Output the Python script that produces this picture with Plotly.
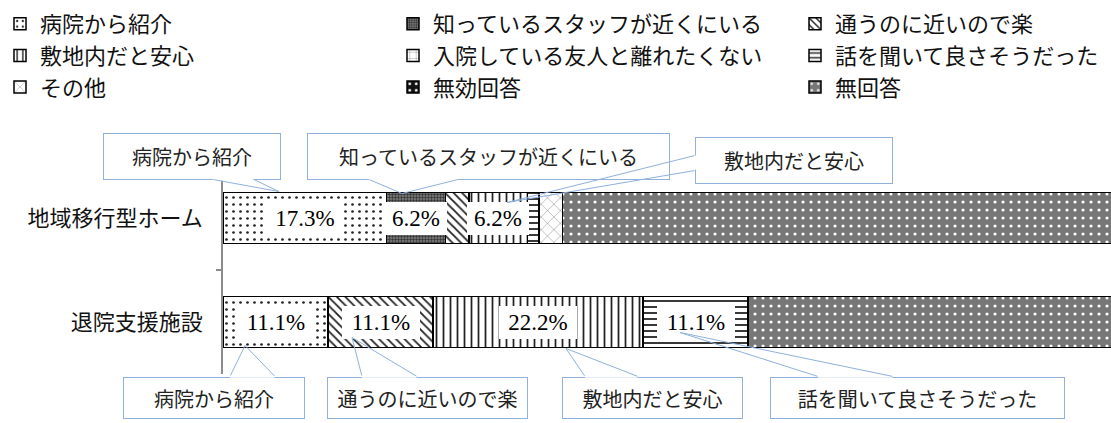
import plotly.graph_objects as go

# ---------------------------------------------------------------- data
categories = ["地域移行型ホーム", "退院支援施設"]

series_names = [
    "病院から紹介",
    "知っているスタッフが近くにいる",
    "通うのに近いので楽",
    "敷地内だと安心",
    "入院している友人と離れたくない",
    "話を聞いて良さそうだった",
    "その他",
    "無効回答",
    "無回答",
]

# share of respondents (%) : [地域移行型ホーム, 退院支援施設]
hospital_referral = [17.3, 11.1]
staff_nearby = [6.2, 0.0]
easy_commute = [2.5, 11.1]
safe_on_site = [6.2, 22.2]
stay_with_friends = [0.0, 0.0]
good_impression = [1.2, 11.1]
other_reason = [2.5, 0.0]
invalid_answer = [0.0, 0.0]
no_answer = [64.2, 44.4]

series_values = [
    hospital_referral, staff_nearby, easy_commute, safe_on_site,
    stay_with_friends, good_impression, other_reason, invalid_answer, no_answer,
]

# segments that carry a value label and a callout with the series name
labelled_segments = {
    "地域移行型ホーム": ["病院から紹介", "知っているスタッフが近くにいる", "敷地内だと安心"],
    "退院支援施設": ["病院から紹介", "通うのに近いので楽", "敷地内だと安心", "話を聞いて良さそうだった"],
}

# ---------------------------------------------------------------- styles
CJK = "Noto Sans CJK JP"
SERIF = "Liberation Serif, " + CJK
CALLOUT_BLUE = "#8fb1dc"
W, H = 1111, 423

patterns = {
    "病院から紹介": dict(shape=".", bgcolor="white", fgcolor="#222222", size=7, solidity=0.12),
    "知っているスタッフが近くにいる": dict(shape=".", bgcolor="#858585", fgcolor="#333333", size=3, solidity=0.5),
    "通うのに近いので楽": dict(shape="\\", bgcolor="white", fgcolor="#222222", size=6, solidity=0.3),
    "敷地内だと安心": dict(shape="|", bgcolor="white", fgcolor="#222222", size=7, solidity=0.25),
    "入院している友人と離れたくない": dict(shape="+", bgcolor="white", fgcolor="#444444", size=8, solidity=0.08),
    "話を聞いて良さそうだった": dict(shape="-", bgcolor="white", fgcolor="#222222", size=6, solidity=0.3),
    "その他": dict(shape="x", bgcolor="white", fgcolor="#555555", size=9, solidity=0.08),
    "無効回答": dict(shape=".", bgcolor="#111111", fgcolor="white", size=8, solidity=0.15),
    "無回答": dict(shape=".", bgcolor="#777777", fgcolor="white", size=8, solidity=0.12),
}

# legend laid out as three columns (left edge of each, in px)
legend_ids = ["legend", "legend2", "legend3"]
legend_left_px = [0, 393, 795]

# callout geometry in screen pixels relative to the middle of the segment
# tip: wedge point, box: (centre dx, centre dy, width, height), base: wedge roots on the box edge
callout_geometry = {
    ("地域移行型ホーム", "病院から紹介"):
        dict(tip=(-26, -26.5), box=(-113, -62, 178, 47), base=((-92, -38.5), (-51, -38.5))),
    ("地域移行型ホーム", "知っているスタッフが近くにいる"):
        dict(tip=(-14, -24.5), box=(72.5, -62, 363, 47), base=((-47, -38.5), (42, -38.5))),
    ("地域移行型ホーム", "敷地内だと安心"):
        dict(tip=(8.7, -15.5), box=(295.7, -58, 198, 47), base=((196.7, -62.5), (196.7, -47.5))),
    ("退院支援施設", "病院から紹介"):
        dict(tip=(-30.5, 23.5), box=(-61.5, 75.5, 182, 42), base=((-45.5, 54.5), (-0.5, 54.5))),
    ("退院支援施設", "通うのに近いので楽"):
        dict(tip=(-28.5, 15.5), box=(47, 75.5, 201, 42), base=((-18.5, 54.5), (36.5, 54.5))),
    ("退院支援施設", "敷地内だと安心"):
        dict(tip=(28, 26.5), box=(114.5, 75.5, 181, 42), base=((47, 54.5), (100, 54.5))),
    ("退院支援施設", "話を聞いて良さそうだった"):
        dict(tip=(-15.5, 10.5), box=(222, 75.5, 295, 42), base=((122.5, 54.5), (197.5, 54.5))),
}

# ---------------------------------------------------------------- bars
fig = go.Figure()
for i, (name, vals) in enumerate(zip(series_names, series_values)):
    pat = patterns[name]
    fig.add_trace(go.Bar(
        y=categories,
        x=[v if v > 0 else None for v in vals],
        name=name,
        orientation="h",
        legend=legend_ids[i % 3],
        marker=dict(
            color=pat["bgcolor"],
            pattern=dict(fillmode="replace", **pat),
            line=dict(color="black", width=1.5),
        ),
        hoverinfo="skip",
    ))

# ---------------------------------------------------------------- labels and callouts
annotations = []
callout_layers = []
for ci, cat in enumerate(categories):
    start = 0.0
    for name, vals in zip(series_names, series_values):
        v = vals[ci]
        mid = start + v / 2
        start += v
        if name not in labelled_segments[cat]:
            continue
        text = f"{v:.1f}%"
        annotations.append(dict(
            x=mid, y=cat, xref="x", yref="y", text=text, showarrow=False,
            font=dict(family=SERIF, size=23, color="black"),
            bgcolor="white", borderpad=0, borderwidth=0,
            width=16 * len(text) - 2, height=33,
        ))

        g = callout_geometry[(cat, name)]
        cx, cy, bw, bh = g["box"]
        tdx, tdy = g["tip"]
        anchor = dict(x=mid, y=cat, xref="x", yref="y")
        # box
        callout_layers.append(dict(
            **anchor, text=name, showarrow=False, xshift=cx, yshift=-cy,
            font=dict(family=CJK, size=20, color="#222222"),
            bgcolor="white", bordercolor=CALLOUT_BLUE, borderwidth=1, borderpad=0,
            width=bw - 2, height=bh - 2,
        ))
        (b1x, b1y), (b2x, b2y) = g["base"]
        # open the box edge where the wedge leaves it
        callout_layers.append(dict(
            **anchor, text=" ", font=dict(size=1), borderpad=0,
            showarrow=True, arrowhead=0, arrowwidth=2.5, arrowcolor="white",
            standoff=0, startstandoff=0,
            xshift=b1x, yshift=-b1y, ax=b2x - b1x, ay=b2y - b1y,
        ))
        # the two wedge sides
        for bx, by in g["base"]:
            callout_layers.append(dict(
                **anchor, text=" ", font=dict(size=1), borderpad=0,
                showarrow=True, arrowhead=0, arrowwidth=1, arrowcolor=CALLOUT_BLUE,
                standoff=0, startstandoff=0,
                xshift=tdx, yshift=-tdy, ax=bx - tdx, ay=by - tdy,
            ))

legend_style = dict(
    orientation="v", xref="container", yref="container",
    y=1 - 3 / H, xanchor="left", yanchor="top",
    traceorder="normal", tracegroupgap=0,
    font=dict(family=CJK, size=22, color="#111111"),
    bgcolor="rgba(0,0,0,0)",
)
legends = {lid: dict(legend_style, x=px / W) for lid, px in zip(legend_ids, legend_left_px)}

fig.update_layout(
    width=W, height=H,
    margin=dict(l=223, r=0, t=166, b=49, autoexpand=False),
    paper_bgcolor="white", plot_bgcolor="white",
    barmode="stack", bargap=0.51,
    font=dict(family=CJK, size=22, color="black"),
    showlegend=True,
    **legends,
    xaxis=dict(range=[0, 93.87], visible=False, fixedrange=True),
    yaxis=dict(
        categoryorder="array", categoryarray=categories, autorange="reversed",
        showline=True, linecolor="#8c8c8c", linewidth=1.5,
        ticks="outside", ticklen=5, tickcolor="#8c8c8c", tickwidth=1.5,
        tickson="boundaries", ticklabelstandoff=14,
        tickfont=dict(family=CJK, size=22, color="#111111"),
        showgrid=False, zeroline=False, fixedrange=True,
    ),
    annotations=annotations + callout_layers,
)

fig.write_html("out.html")
